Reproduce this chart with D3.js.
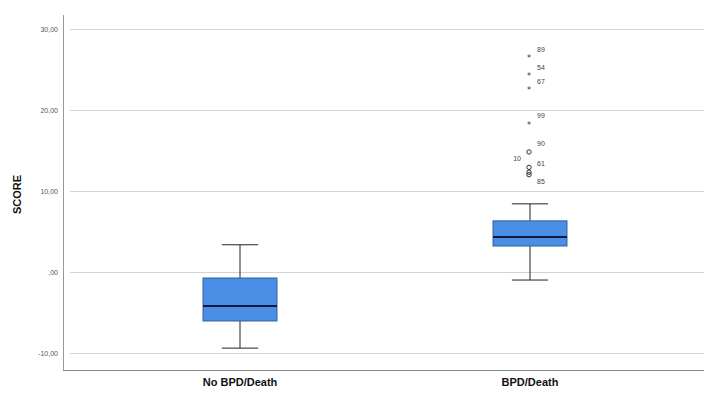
<!DOCTYPE html>
<html><head><meta charset="utf-8">
<script src="https://cdn.jsdelivr.net/npm/d3@7"></script>
<style>body{margin:0;background:#fff}svg{display:block}</style>
</head><body>
<svg id="c" width="704" height="393"></svg>
<script>
const categories = ["No BPD/Death", "BPD/Death"];
const whiskerLow = [-9.4, -1.0];
const q1 = [-6.05, 3.2];
const median = [-4.2, 4.3];
const q3 = [-0.75, 6.3];
const whiskerHigh = [3.35, 8.4];
const outlierValues = [26.4, 24.2, 22.5, 18.2, 14.8, 12.9, 12.3, 12.0];
const outlierLabels = ["89", "54", "67", "99", "90", "10", "61", "85"];
const outlierKinds = ["extreme", "extreme", "extreme", "extreme", "out", "out", "out", "out"];
const outlierCategory = "BPD/Death";
const tickValues = [-10, 0, 10, 20, 30];
const tickLabels = ["-10,00", ",00", "10,00", "20,00", "30,00"];
const yTitle = "SCORE";

const svg = d3.select("#c");
const y = d3.scaleLinear().domain([-12.1, 31.7]).range([370, 15]);
const x = d3.scaleBand().domain(categories).range([95, 675]).padding(0);
const axisX = 63, axisBottom = 370;

// gridlines
svg.append("g").selectAll("line").data(tickValues).join("line")
  .attr("x1", 70).attr("x2", 704)
  .attr("y1", d => Math.round(y(d)) + 0.5).attr("y2", d => Math.round(y(d)) + 0.5)
  .attr("stroke", "#d4d4d4").attr("stroke-width", 1);

// y axis
const yAxis = d3.axisLeft(y).tickValues(tickValues)
  .tickFormat((d, i) => tickLabels[i]).tickSize(0).tickPadding(5);
const gy = svg.append("g").attr("transform", `translate(${axisX},0)`).call(yAxis);
gy.select(".domain").remove();
gy.selectAll("text").attr("font-family", "Liberation Sans, Arial, sans-serif")
  .attr("font-size", 7).attr("fill", "#555");
svg.append("line").attr("x1", axisX + 0.5).attr("x2", axisX + 0.5).attr("y1", 15).attr("y2", axisBottom)
  .attr("stroke", "#999").attr("stroke-width", 1);

// x axis
const xAxis = d3.axisBottom(x).tickSize(0).tickPadding(8);
const gx = svg.append("g").attr("transform", `translate(0,${axisBottom})`).call(xAxis);
gx.select(".domain").remove();
gx.selectAll("text").attr("font-family", "Liberation Sans, Arial, sans-serif")
  .attr("font-size", 11).attr("font-weight", "bold").attr("fill", "#111");
svg.append("line").attr("x1", axisX).attr("x2", 704).attr("y1", axisBottom + 0.5).attr("y2", axisBottom + 0.5)
  .attr("stroke", "#888").attr("stroke-width", 1.2);

// y title
svg.append("text").attr("transform", `translate(21,${(y(31.7) + axisBottom) / 2 + 2}) rotate(-90)`)
  .attr("text-anchor", "middle").attr("font-family", "Liberation Sans, Arial, sans-serif")
  .attr("font-size", 11).attr("font-weight", "bold").attr("fill", "#111").text(yTitle);

// boxes
const boxW = x.bandwidth() * 0.255;
const capW = x.bandwidth() * 0.125;
const g = svg.append("g");
categories.forEach((c, i) => {
  const cx = x(c) + x.bandwidth() / 2;
  g.append("line").attr("x1", cx).attr("x2", cx).attr("y1", y(whiskerHigh[i])).attr("y2", y(q3[i]))
    .attr("stroke", "#222").attr("stroke-width", 1);
  g.append("line").attr("x1", cx).attr("x2", cx).attr("y1", y(q1[i])).attr("y2", y(whiskerLow[i]))
    .attr("stroke", "#222").attr("stroke-width", 1);
  [whiskerHigh[i], whiskerLow[i]].forEach(v => {
    g.append("line").attr("x1", cx - capW / 2).attr("x2", cx + capW / 2).attr("y1", y(v)).attr("y2", y(v))
      .attr("stroke", "#222").attr("stroke-width", 1);
  });
  g.append("rect").attr("x", cx - boxW / 2).attr("width", boxW)
    .attr("y", y(q3[i])).attr("height", y(q1[i]) - y(q3[i]))
    .attr("fill", "#4a8ee6").attr("stroke", "#2f5f9e").attr("stroke-width", 1);
  g.append("line").attr("x1", cx - boxW / 2).attr("x2", cx + boxW / 2)
    .attr("y1", y(median[i])).attr("y2", y(median[i]))
    .attr("stroke", "#101840").attr("stroke-width", 2);
});

// outliers
const ocx = x(outlierCategory) + x.bandwidth() / 2 - 1;
const og = svg.append("g");
let lastRightLabelY = -Infinity;
outlierValues.forEach((v, i) => {
  const py = y(v);
  if (outlierKinds[i] === "extreme") {
    og.append("text").attr("x", ocx).attr("y", py + 3.5).attr("text-anchor", "middle")
      .attr("font-family", "DejaVu Sans, sans-serif").attr("font-size", 8).attr("fill", "#333").text("*");
  } else {
    og.append("circle").attr("cx", ocx).attr("cy", py).attr("r", 2.2)
      .attr("fill", "none").attr("stroke", "#333").attr("stroke-width", 1);
  }
  const left = outlierLabels[i] === "10";
  let ly = py - 6;
  if (!left) {
    if (ly - lastRightLabelY < 9) ly = py + 9;   // avoid overlapping labels: place below point
    lastRightLabelY = ly;
  }
  og.append("text").attr("x", left ? ocx - 8 : ocx + 8).attr("y", ly)
    .attr("text-anchor", left ? "end" : "start")
    .attr("font-family", "Liberation Sans, Arial, sans-serif").attr("font-size", 7).attr("fill", "#444")
    .text(outlierLabels[i]);
});
</script>
</body></html>
